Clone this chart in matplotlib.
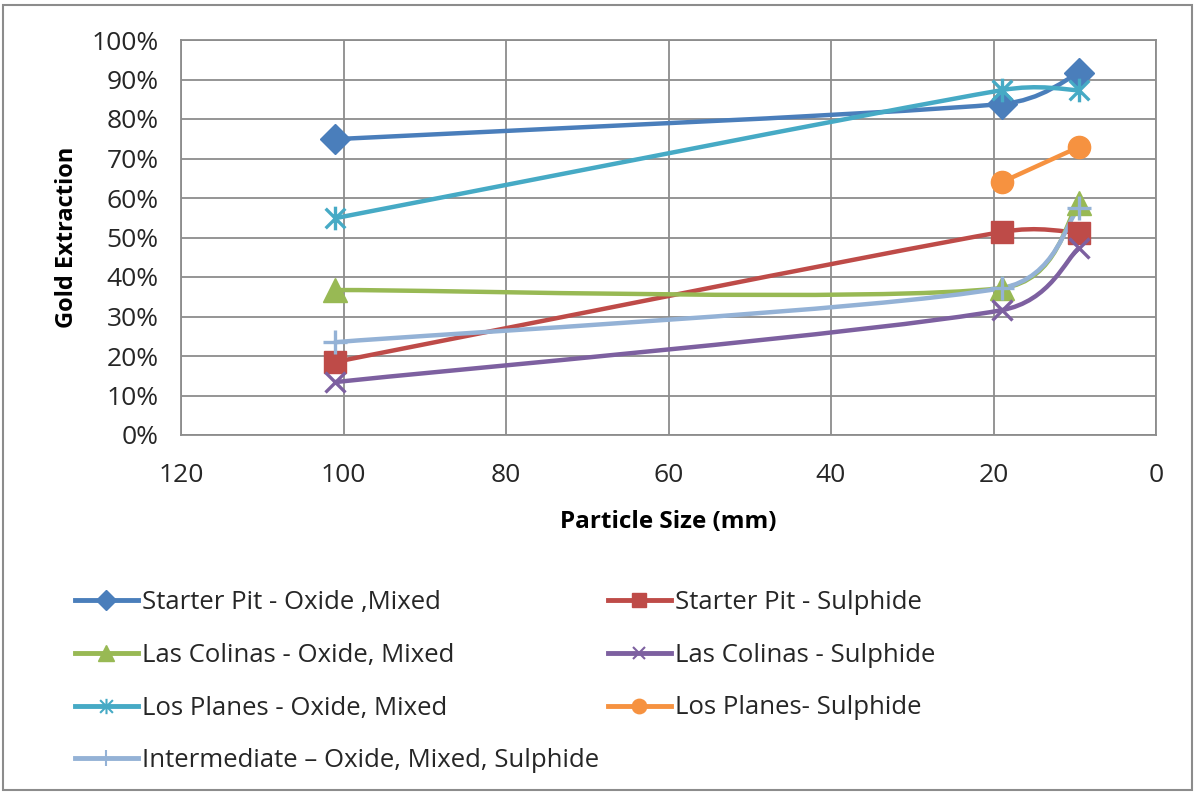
import numpy as np
import matplotlib
matplotlib.use("Agg")
import matplotlib.pyplot as plt
from matplotlib.path import Path
from matplotlib.patches import PathPatch, Rectangle
from matplotlib.lines import Line2D

plt.rcParams['font.family'] = ['Open Sans', 'DejaVu Sans']

# ---- data ----
series_names = [
    "Starter Pit - Oxide ,Mixed",
    "Starter Pit - Sulphide",
    "Las Colinas - Oxide, Mixed",
    "Las Colinas - Sulphide",
    "Los Planes - Oxide, Mixed",
    "Los Planes- Sulphide",
    "Intermediate \u2013 Oxide, Mixed, Sulphide",
]
sizes_3 = [101, 19, 9.5]
sizes_2 = [19, 9.5]
starter_oxide = [74.9, 83.8, 91.6]
starter_sulph = [18.5, 51.4, 51.2]
colinas_oxide = [36.7, 37.2, 58.7]
colinas_sulph = [13.4, 31.6, 47.3]
planes_oxide = [54.9, 87.3, 87.3]
planes_sulph = [64.0, 72.9]
intermediate = [23.5, 37.2, 57.5]

series_x = [sizes_3, sizes_3, sizes_3, sizes_3, sizes_3, sizes_2, sizes_3]
series_y = [starter_oxide, starter_sulph, colinas_oxide, colinas_sulph,
            planes_oxide, planes_sulph, intermediate]
colors = ["#4A7EBB", "#BE4B48", "#98B954", "#7D60A0", "#46AAC5", "#F69240", "#94B2D6"]

x_ticks = [120, 100, 80, 60, 40, 20, 0]
y_ticks = [0, 10, 20, 30, 40, 50, 60, 70, 80, 90, 100]

# asterisk marker (x with vertical bar)
asterisk = Path([(-1, -1), (1, 1), (-1, 1), (1, -1), (0, -1.2), (0, 1.2)],
                [Path.MOVETO, Path.LINETO, Path.MOVETO, Path.LINETO, Path.MOVETO, Path.LINETO])
markers = ["D", "s", "^", "x", asterisk, "o", "+"]
msizes = [15, 16, 17, 14, 17, 16, 17]

W, H = 1196, 795
ax_l, ax_r, ax_t, ax_b = 181, 1156, 40, 435
fig = plt.figure(figsize=(W / 100, H / 100), dpi=100)
ax = fig.add_axes([ax_l / W, 1 - ax_b / H, (ax_r - ax_l) / W, (ax_b - ax_t) / H])
ax.set_xlim(120, 0)
ax.set_ylim(0, 100)
ax.set_xticks(x_ticks)
ax.set_yticks(y_ticks)
ax.set_yticklabels([f"{v}%" for v in y_ticks])
ax.tick_params(length=0, labelsize=19, colors="#262626")
ax.tick_params(axis="y", pad=16)
ax.tick_params(axis="x", pad=20)
ax.grid(True, color="#8C8C8C", linewidth=1.3)
ax.set_axisbelow(True)
for s in ax.spines.values():
    s.set_color("#8C8C8C")
    s.set_linewidth(1.3)
ax.set_xlabel("Particle Size (mm)", fontsize=17.5, fontweight="bold", labelpad=16)
ax.set_ylabel("Gold Extraction", fontsize=17, fontweight="bold", labelpad=9)

# pixel scale used for Excel-style smoothing
sx = (ax_r - ax_l) / 120.0
sy = (ax_b - ax_t) / 100.0


def smooth_path(xs, ys):
    P = np.column_stack([np.asarray(xs, float) * sx, np.asarray(ys, float) * sy])
    n = len(P)
    verts = [P[0]]
    codes = [Path.MOVETO]
    for i in range(n - 1):
        p0 = P[i - 1] if i > 0 else P[i]
        p1 = P[i]
        p2 = P[i + 1]
        p3 = P[i + 2] if i + 2 < n else P[i + 1]
        d12 = np.hypot(*(p2 - p1))
        d02 = np.hypot(*(p2 - p0))
        d13 = np.hypot(*(p3 - p1))
        f1 = 1 / 6 if d02 / 6 < d12 / 2 else d12 / d02 / 2
        f2 = 1 / 6 if d13 / 6 < d12 / 2 else d12 / d13 / 2
        c1 = p1 + (p2 - p0) * f1
        c2 = p2 - (p3 - p1) * f2
        verts += [c1, c2, p2]
        codes += [Path.CURVE4] * 3
    V = np.array(verts)
    V[:, 0] /= sx
    V[:, 1] /= sy
    return Path(V, codes)


handles = []
for name, xs, ys, c, m, ms in zip(series_names, series_x, series_y, colors, markers, msizes):
    patch = PathPatch(smooth_path(xs, ys), fill=False, edgecolor=c, linewidth=3.2,
                      capstyle="round", joinstyle="round", zorder=3)
    ax.add_patch(patch)
    thin = not isinstance(m, str) or m in ("x", "+")
    ax.plot(xs, ys, linestyle="none", marker=m, markersize=ms, color=c,
            markeredgecolor=c, markeredgewidth=2.4 if thin else 1, zorder=4)
    handles.append(Line2D([], [], color=c, linewidth=3.5, marker=m, markersize=ms * 0.65,
                          markeredgecolor=c, markeredgewidth=1.5 if thin else 1))

leg_kw = dict(frameon=False, fontsize=18.5, handlelength=2.45, handletextpad=0.15,
              labelspacing=1.08, borderpad=0, borderaxespad=0, loc="upper left")
leg1 = fig.legend([handles[i] for i in (0, 2, 4, 6)], [series_names[i] for i in (0, 2, 4, 6)],
                  bbox_to_anchor=(75 / W, 1 - 590 / H), **leg_kw)
leg2 = fig.legend([handles[i] for i in (1, 3, 5)], [series_names[i] for i in (1, 3, 5)],
                  bbox_to_anchor=(608 / W, 1 - 590 / H), **leg_kw)
for lg in (leg1, leg2):
    for t in lg.get_texts():
        t.set_color("#262626")

fig.patches.append(Rectangle((3 / W, 5 / H), 1189 / W, 785 / H, transform=fig.transFigure,
                             fill=False, edgecolor="#8C8C8C", linewidth=1.5))

fig.savefig("out.png", dpi=100)
